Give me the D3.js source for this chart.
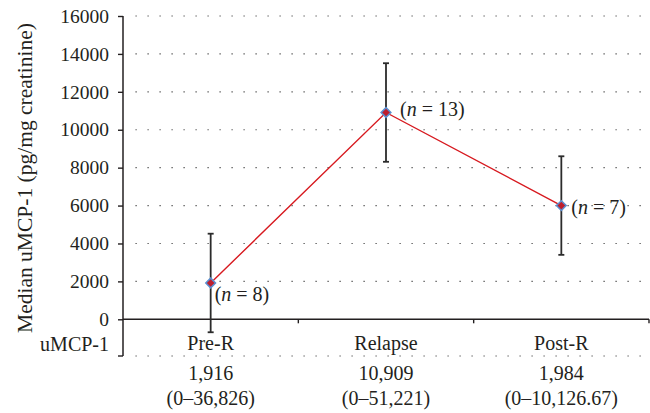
<!DOCTYPE html>
<html>
<head>
<meta charset="utf-8">
<script src="https://cdn.jsdelivr.net/npm/d3@7"></script>
<style>
  body { margin: 0; background: #fff; }
  text { font-family: "Liberation Serif", "DejaVu Serif", serif; fill: #231f20; }
</style>
</head>
<body>
<div id="chart"></div>
<script>
var categories = ["Pre-R", "Relapse", "Post-R"];
var medians = [1916, 10909, 6000];
var errors = [2600, 2600, 2600];
var nLabels = ["8", "13", "7"];
var tableMedian = ["1,916", "10,909", "1,984"];
var tableRange = ["(0\u201336,826)", "(0\u201351,221)", "(0\u201310,126.67)"];
var yTicks = [0, 2000, 4000, 6000, 8000, 10000, 12000, 14000, 16000];

var width = 650, height = 413;
var margin = { top: 16, left: 123, right: 1 };
var zeroY = 319.3, tableBottom = 356;
var ink = "#231f20";

var svg = d3.select("#chart").append("svg")
    .attr("width", width)
    .attr("height", height);

var x = d3.scaleBand()
    .domain(categories)
    .range([margin.left, width - margin.right])
    .padding(0);

var y = d3.scaleLinear()
    .domain([0, 16000])
    .range([zeroY, margin.top]);

var cx = function(i) { return x(categories[i]) + x.bandwidth() / 2; };

// dotted gridlines (plus the one under the table header row)
var gridYs = yTicks.filter(function(d) { return d > 0; }).map(y).concat([tableBottom]);
svg.append("g").selectAll("line")
    .data(gridYs)
    .enter().append("line")
    .attr("x1", margin.left + 12.5)
    .attr("x2", width - margin.right)
    .attr("y1", function(d) { return d; })
    .attr("y2", function(d) { return d; })
    .attr("stroke", "#444")
    .attr("stroke-width", 1.2)
    .attr("stroke-dasharray", "1.2,10.8");

// y axis
var yAxis = svg.append("g")
    .attr("transform", "translate(" + margin.left + ",0)")
    .call(d3.axisLeft(y).tickValues(yTicks).tickFormat(d3.format("d"))
        .tickSize(5).tickSizeOuter(0).tickPadding(9));
yAxis.select(".domain").remove();
yAxis.selectAll("line").attr("stroke", ink).attr("stroke-width", 1.4);
yAxis.selectAll("text").attr("font-size", 19.5).attr("font-family", "Liberation Serif").attr("fill", ink);

svg.append("line")
    .attr("x1", margin.left).attr("x2", margin.left)
    .attr("y1", y(16000)).attr("y2", tableBottom)
    .attr("stroke", ink).attr("stroke-width", 1.5);
svg.append("line")
    .attr("x1", margin.left - 5).attr("x2", margin.left)
    .attr("y1", tableBottom).attr("y2", tableBottom)
    .attr("stroke", ink).attr("stroke-width", 1.4);

// x axis at zero, ticks on category boundaries
svg.append("line")
    .attr("x1", margin.left).attr("x2", width - margin.right)
    .attr("y1", zeroY).attr("y2", zeroY)
    .attr("stroke", ink).attr("stroke-width", 1.5);
svg.append("g").selectAll("line")
    .data(categories)
    .enter().append("line")
    .attr("x1", function(d) { return x(d) + x.bandwidth(); })
    .attr("x2", function(d) { return x(d) + x.bandwidth(); })
    .attr("y1", zeroY).attr("y2", zeroY + 4)
    .attr("stroke", ink).attr("stroke-width", 1.4);

// y title
svg.append("text")
    .attr("transform", "translate(32," + 178 + ") rotate(-90)")
    .attr("text-anchor", "middle")
    .attr("font-size", 21.5)
    .text("Median uMCP-1 (pg/mg creatinine)");

// table rows
svg.append("text")
    .attr("x", 109).attr("y", 351)
    .attr("text-anchor", "end")
    .attr("font-size", 20)
    .text("uMCP-1");

svg.append("g").selectAll("text")
    .data(categories)
    .enter().append("text")
    .attr("x", function(d, i) { return cx(i); })
    .attr("y", 350)
    .attr("text-anchor", "middle")
    .attr("font-size", 20)
    .text(function(d) { return d; });

svg.append("g").selectAll("text")
    .data(tableMedian)
    .enter().append("text")
    .attr("x", function(d, i) { return cx(i); })
    .attr("y", 380)
    .attr("text-anchor", "middle")
    .attr("font-size", 20)
    .text(function(d) { return d; });

svg.append("g").selectAll("text")
    .data(tableRange)
    .enter().append("text")
    .attr("x", function(d, i) { return cx(i); })
    .attr("y", 405)
    .attr("text-anchor", "middle")
    .attr("font-size", 20)
    .text(function(d) { return d; });

// error bars
var eb = svg.append("g").selectAll("g")
    .data(medians)
    .enter().append("g")
    .attr("stroke", "#2b2b2b")
    .attr("stroke-width", 1.8);
eb.append("line")
    .attr("x1", function(d, i) { return cx(i); })
    .attr("x2", function(d, i) { return cx(i); })
    .attr("y1", function(d, i) { return y(d + errors[i]); })
    .attr("y2", function(d, i) { return y(d - errors[i]); });
eb.append("line")
    .attr("x1", function(d, i) { return cx(i) - 3; })
    .attr("x2", function(d, i) { return cx(i) + 3; })
    .attr("y1", function(d, i) { return y(d + errors[i]); })
    .attr("y2", function(d, i) { return y(d + errors[i]); });
eb.append("line")
    .attr("x1", function(d, i) { return cx(i) - 3; })
    .attr("x2", function(d, i) { return cx(i) + 3; })
    .attr("y1", function(d, i) { return y(d - errors[i]); })
    .attr("y2", function(d, i) { return y(d - errors[i]); });

// median line
var line = d3.line()
    .x(function(d, i) { return cx(i); })
    .y(function(d) { return y(d); });
svg.append("path")
    .datum(medians)
    .attr("d", line)
    .attr("fill", "none")
    .attr("stroke", "#d7191f")
    .attr("stroke-width", 1.4);

// diamond markers
svg.append("g").selectAll("path")
    .data(medians)
    .enter().append("path")
    .attr("d", d3.symbol().type(d3.symbolDiamond2).size(60))
    .attr("transform", function(d, i) { return "translate(" + cx(i) + "," + y(d) + ")"; })
    .attr("fill", "#be1e2d")
    .attr("stroke", "#5b8fd0")
    .attr("stroke-width", 1.5);

// n labels
var nPos = [[4, 18], [14, 3], [10, 8]];
var nl = svg.append("g").selectAll("text")
    .data(nLabels)
    .enter().append("text")
    .attr("x", function(d, i) { return cx(i) + nPos[i][0]; })
    .attr("y", function(d, i) { return y(medians[i]) + nPos[i][1]; })
    .attr("font-size", 20);
nl.append("tspan").text("(");
nl.append("tspan").attr("font-style", "italic").text("n");
nl.append("tspan").text(function(d) { return " = " + d + ")"; });
</script>
</body>
</html>
